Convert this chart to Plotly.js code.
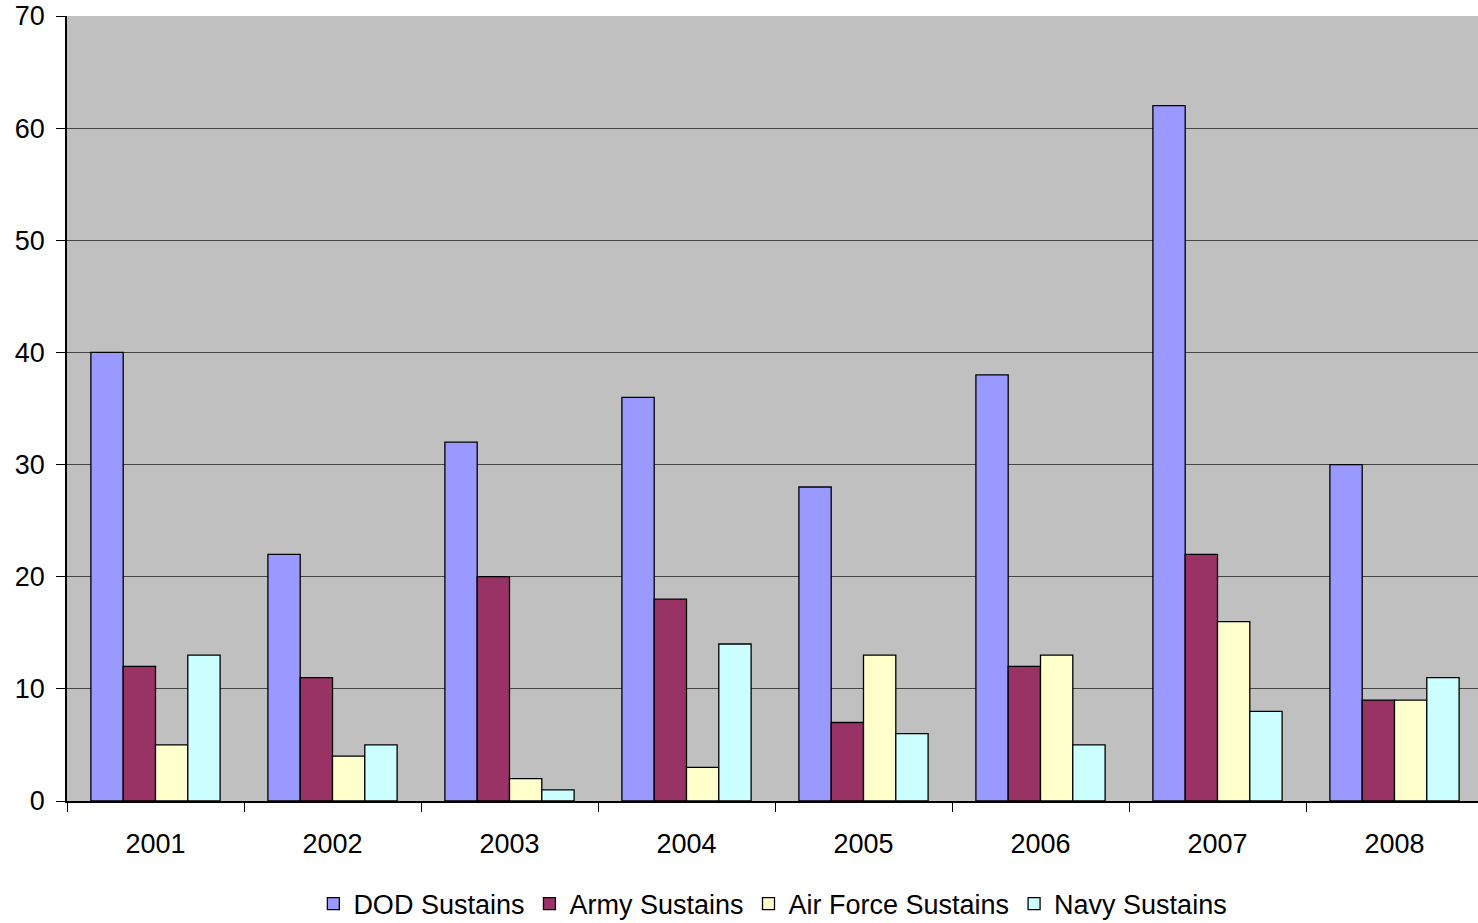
<!DOCTYPE html>
<html><head><meta charset="utf-8">
<script src="https://cdn.plot.ly/plotly-3.0.1.min.js"></script>
<style>html,body{margin:0;padding:0;background:#fff;overflow:hidden}#chart{width:1483px;height:923px}</style>
</head><body><div id="chart"></div>
<script>
var years = ['2001','2002','2003','2004','2005','2006','2007','2008'];
var dodSustains = [40, 22, 32, 36, 28, 38, 62, 30];
var armySustains = [12, 11, 20, 18, 7, 12, 22, 9];
var airForceSustains = [5, 4, 2, 3, 13, 13, 16, 9];
var navySustains = [13, 5, 1, 14, 6, 5, 8, 11];
var seriesNames = ['DOD Sustains','Army Sustains','Air Force Sustains','Navy Sustains'];
var seriesColors = ['#9999FF','#993366','#FFFFCC','#CCFFFF'];
var seriesValues = [dodSustains, armySustains, airForceSustains, navySustains];

var traces = seriesValues.map(function(v,i){
  return {type:'bar', x:years, y:v, name:seriesNames[i],
    marker:{color:seriesColors[i], line:{color:'#000', width:1.3}}};
});
var layout = {
  width:1483, height:923,
  margin:{l:67, r:0, t:16, b:122, autoexpand:false},
  paper_bgcolor:'#fff', plot_bgcolor:'#C0C0C0',
  barmode:'group', bargap:0.27, bargroupgap:0,
  font:{family:'Liberation Sans, Arial, sans-serif', size:27, color:'#000'},
  xaxis:{type:'category', tickson:'boundaries', ticks:'outside', ticklen:9, tickcolor:'#000', tickwidth:1,
    ticklabelstandoff:18, automargin:false,
    showline:true, linecolor:'#000', linewidth:1.5, showgrid:false, zeroline:false, tickfont:{size:27}},
  yaxis:{range:[0,70], dtick:10, ticks:'outside', ticklen:9, tickcolor:'#000', tickwidth:1,
    ticklabelstandoff:6, automargin:false,
    showline:true, linecolor:'#000', linewidth:1.5, gridcolor:'#444', gridwidth:1, zeroline:false, tickfont:{size:27}},
  legend:{orientation:'h', x:0.4985, xanchor:'center', xref:'paper', y:-0.1, yanchor:'top', font:{size:27}, itemwidth:30, traceorder:'normal'},
  showlegend:true
};
Plotly.newPlot('chart', traces, layout, {displayModeBar:false});
</script></body></html>
